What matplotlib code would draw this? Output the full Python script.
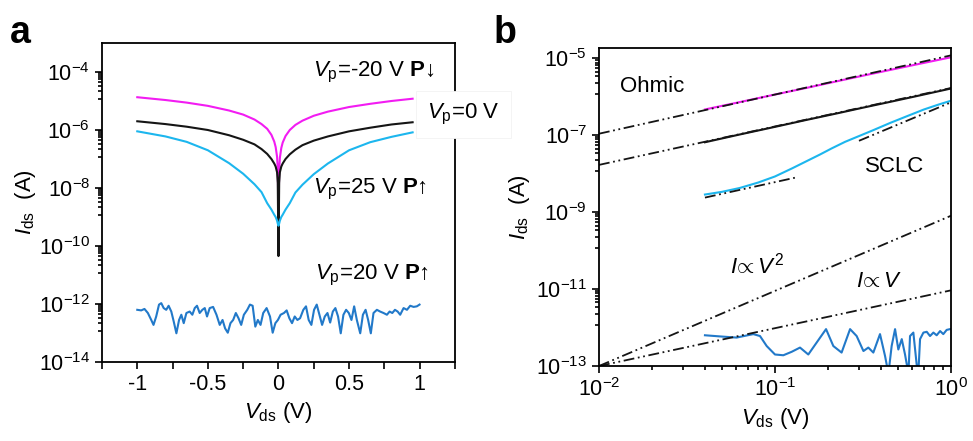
import numpy as np
import matplotlib.pyplot as plt
from matplotlib.ticker import FixedLocator, FuncFormatter, NullFormatter

plt.rcParams['font.family'] = ['Liberation Sans', 'DejaVu Sans']
plt.rcParams['mathtext.fontset'] = 'custom'
plt.rcParams['mathtext.rm'] = 'Liberation Sans'
plt.rcParams['mathtext.it'] = 'Liberation Sans:italic'
plt.rcParams['mathtext.bf'] = 'Liberation Sans:bold'
plt.rcParams['axes.unicode_minus'] = False

# ---- panel a : I-V sweeps, -1 V .. 0.95 V ----
v_a = [-1.0, -0.8, -0.65, -0.5, -0.35, -0.25, -0.17, -0.12, -0.08, -0.05, -0.03, -0.02,
       -0.01, -0.005, 0.0, 0.005, 0.01, 0.02, 0.03, 0.05, 0.08, 0.12, 0.17, 0.25, 0.35,
       0.5, 0.65, 0.8, 0.95]
i_neg20 = [1.35e-5, 1.08e-5, 8.8e-6, 6.8e-6, 4.7e-6, 3.4e-6, 2.3e-6, 1.6e-6, 1.1e-6, 6.8e-7,
           4.0e-7, 2.6e-7, 1.2e-7, 4.5e-8, 8.5e-10, 4.0e-8, 1.1e-7, 2.4e-7, 3.7e-7, 6.2e-7,
           1.0e-6, 1.5e-6, 2.1e-6, 3.1e-6, 4.3e-6, 6.2e-6, 8.0e-6, 1.0e-5, 1.2e-5]
i_0 = [2.0e-6, 1.6e-6, 1.3e-6, 1.0e-6, 6.6e-7, 4.6e-7, 3.2e-7, 2.2e-7, 1.5e-7, 1.0e-7,
       7.0e-8, 5.5e-8, 3.5e-8, 1.5e-8, 4.5e-11, 1.5e-8, 3.5e-8, 5.5e-8, 7.0e-8, 1.0e-7,
       1.45e-7, 2.1e-7, 3.0e-7, 4.3e-7, 6.0e-7, 9.0e-7, 1.2e-6, 1.55e-6, 1.85e-6]
i_25 = [9.0e-7, 6.0e-7, 3.9e-7, 2.0e-7, 7.2e-8, 3.1e-8, 1.35e-8, 7.2e-9, 3.0e-9, 1.8e-9,
        1.2e-9, 1.0e-9, 7.5e-10, 6.0e-10, 5.0e-10, 6.0e-10, 7.5e-10, 1.0e-9, 1.2e-9, 1.8e-9,
        3.0e-9, 7.0e-9, 1.3e-8, 3.0e-8, 7.0e-8, 2.0e-7, 3.8e-7, 5.8e-7, 8.3e-7]

v_noise_a = [-1.0, -0.972, -0.949, -0.925, -0.901, -0.885, -0.866, -0.846, -0.83, -0.813,
             -0.795, -0.778, -0.759, -0.742, -0.723, -0.704, -0.688, -0.671, -0.652, -0.629,
             -0.61, -0.593, -0.577, -0.558, -0.539, -0.522, -0.506, -0.487, -0.463, -0.439,
             -0.416, -0.396, -0.378, -0.359, -0.34, -0.321, -0.302, -0.283, -0.264, -0.245,
             -0.221, -0.202, -0.183, -0.164, -0.146, -0.127, -0.108, -0.084, -0.06, -0.041,
             -0.022, -0.004, 0.015, 0.039, 0.058, 0.077, 0.096, 0.115, 0.134, 0.153,
             0.176, 0.195, 0.214, 0.233, 0.252, 0.271, 0.29, 0.309, 0.328, 0.347,
             0.366, 0.385, 0.403, 0.422, 0.441, 0.46, 0.479, 0.498, 0.517, 0.536,
             0.555, 0.579, 0.598, 0.617, 0.635, 0.654, 0.673, 0.697, 0.72, 0.744,
             0.768, 0.787, 0.806, 0.825, 0.844, 0.862, 0.886, 0.91, 0.933, 0.957,
             0.98, 0.999]
log_noise_a = [-12.20, -12.22, -12.17, -12.31, -12.55, -12.72, -12.43, -12.02, -11.97, -12.14,
               -12.20, -12.06, -12.26, -12.60, -13.01, -12.55, -12.37, -12.66, -12.31, -12.26,
               -12.37, -12.14, -12.06, -12.31, -12.20, -12.14, -12.43, -12.14, -12.10, -12.37,
               -12.72, -12.55, -12.84, -12.99, -12.66, -12.55, -12.31, -12.49, -12.72, -12.37,
               -12.20, -12.02, -12.06, -12.78, -12.55, -12.72, -12.31, -12.14, -12.43, -12.99,
               -12.66, -12.55, -12.37, -12.31, -12.22, -12.49, -12.66, -12.43, -12.55, -12.49,
               -12.20, -12.08, -12.55, -12.72, -12.20, -12.02, -12.37, -12.72, -12.43, -12.31,
               -12.64, -12.26, -12.14, -12.43, -13.01, -12.37, -12.20, -12.31, -12.55, -12.08,
               -12.55, -13.01, -12.37, -12.20, -12.55, -13.01, -12.31, -12.20, -12.26, -12.31,
               -12.37, -12.26, -12.31, -12.20, -12.26, -12.37, -12.14, -12.20, -12.06, -12.10,
               -12.08, -12.02]

# ---- panel b : positive branch on log-log axes ----
v_b = [0.04, 0.063, 0.1, 0.15, 0.23, 0.32, 0.45, 0.64, 1.0]
i_b_neg20 = [4.7e-7, 7.3e-7, 1.15e-6, 1.7e-6, 2.6e-6, 3.6e-6, 5.0e-6, 7.0e-6, 1.07e-5]
i_b_0 = [6.6e-8, 1.05e-7, 1.66e-7, 2.5e-7, 3.8e-7, 5.3e-7, 7.4e-7, 1.05e-6, 1.65e-6]
v_b25 = [0.04, 0.05, 0.063, 0.08, 0.1, 0.125, 0.15, 0.18, 0.21, 0.25, 0.3, 0.36,
         0.45, 0.55, 0.7, 0.85, 1.0]
log_b25 = [-8.54, -8.47, -8.37, -8.23, -8.07, -7.86, -7.68, -7.50, -7.34, -7.17, -7.02,
           -6.87, -6.68, -6.52, -6.33, -6.20, -6.10]

v_noise_b = [0.04, 0.0487, 0.0605, 0.0753, 0.0822, 0.0897, 0.1, 0.1115, 0.1244, 0.1387,
             0.1546, 0.1724, 0.195, 0.2145, 0.239, 0.267, 0.291, 0.318, 0.339, 0.362,
             0.395, 0.422, 0.441, 0.46, 0.481, 0.502, 0.525, 0.548, 0.573, 0.585,
             0.611, 0.638, 0.652, 0.667, 0.697, 0.728, 0.76, 0.794, 0.829, 0.867,
             0.904, 0.945, 0.987]
log_noise_b = [-12.20, -12.23, -12.26, -12.17, -12.22, -12.48, -12.70, -12.72, -12.63, -12.52,
               -12.70, -12.39, -12.04, -12.48, -12.65, -12.04, -12.22, -12.61, -12.52, -12.65,
               -12.17, -12.74, -13.2, -12.48, -12.04, -12.57, -12.30, -12.70, -13.2, -12.22,
               -12.13, -12.96, -13.2, -12.30, -12.13, -12.11, -12.22, -12.13, -12.20, -12.09,
               -12.17, -12.06, -12.04]

# dash-dot-dot guide lines: ([V start, V end], [I start, I end])
fit_ohmic_neg20 = ([0.01, 1.0], [1.1e-7, 1.2e-5])
fit_ohmic_0 = ([0.01, 1.0], [1.7e-8, 1.7e-6])
fit_ohmic_25 = ([0.04, 0.13], [2.4e-9, 7.9e-9])
fit_sclc_25 = ([0.3, 1.0], [7.2e-8, 7.2e-7])
guide_v2 = ([0.01, 1.0], [1e-13, 8.1e-10])
guide_v1 = ([0.01, 1.0], [1e-13, 9.3e-12])

magenta = '#f21cf2'
black = '#151515'
cyan = '#1cb6ee'
blue = '#2279c9'
ddot = (0, (6, 2, 1, 2, 1, 2))

fig = plt.figure(figsize=(9.73, 4.41), dpi=100)
axa = fig.add_axes([0.1048, 0.1791, 0.3628, 0.7234])
axb = fig.add_axes([0.6156, 0.170, 0.3618, 0.7211])

# panel a
axa.plot(v_a, i_neg20, color=magenta, lw=1.5)
axa.plot(v_a, i_0, color=black, lw=1.5)
axa.plot(v_a, i_25, color=cyan, lw=1.5)
axa.plot(v_noise_a, 10 ** np.array(log_noise_a), color=blue, lw=1.5)
axa.set_yscale('log')
axa.set_xlim(-1.25, 1.25)
axa.set_ylim(1e-14, 1e-3)

# panel b
axb.plot(v_b, i_b_neg20, color=magenta, lw=1.5)
axb.plot(v_b, i_b_0, color=black, lw=1.5)
axb.plot(v_b25, 10 ** np.array(log_b25), color=cyan, lw=1.5)
axb.plot(v_noise_b, 10 ** np.array(log_noise_b), color=blue, lw=1.5)
for fx, fy in [fit_ohmic_neg20, fit_ohmic_0, fit_ohmic_25, fit_sclc_25, guide_v2, guide_v1]:
    axb.plot(fx, fy, color=black, lw=1.3, linestyle=ddot)
axb.set_xscale('log')
axb.set_yscale('log')
axb.set_xlim(0.01, 1.0)
axb.set_ylim(1e-13, 10 ** -4.73)

# ticks: majors every two decades, minors evenly spaced in value between them
def log_minor(majors):
    out = []
    for lo, hi in zip(majors[:-1], majors[1:]):
        out += [lo + k * (hi - lo) / 9 for k in range(1, 9)]
    return out

maj_a = [1e-14, 1e-12, 1e-10, 1e-8, 1e-6, 1e-4, 1e-2]
axa.yaxis.set_major_locator(FixedLocator(maj_a))
axa.yaxis.set_minor_locator(FixedLocator(log_minor(maj_a)))
axa.yaxis.set_minor_formatter(NullFormatter())
axa.xaxis.set_major_locator(FixedLocator([-1, -0.5, 0, 0.5, 1]))
axa.xaxis.set_minor_locator(FixedLocator([-1.25, -0.75, -0.25, 0.25, 0.75, 1.25]))
axa.xaxis.set_major_formatter(FuncFormatter(lambda v, p: '%g' % v))

maj_b = [1e-13, 1e-11, 1e-9, 1e-7, 1e-5, 1e-3]
axb.yaxis.set_major_locator(FixedLocator(maj_b))
axb.yaxis.set_minor_locator(FixedLocator(log_minor(maj_b)))
axb.yaxis.set_minor_formatter(NullFormatter())
axb.xaxis.set_minor_formatter(NullFormatter())

for ax in (axa, axb):
    for s in ax.spines.values():
        s.set_linewidth(1.3)
    ax.tick_params(which='both', direction='out', labelsize=15.5, width=1.2, top=False, right=False)
    ax.tick_params(which='major', length=5)
    ax.tick_params(which='minor', length=3)
axa.tick_params(axis='x', which='minor', length=5)

lab = dict(fontsize=16)
axa.set_xlabel(r'$V_{\mathrm{ds}}$ (V)', **lab)
axa.set_ylabel(r'$I_{\mathrm{ds}}$  (A)', labelpad=1, **lab)
axb.set_xlabel(r'$V_{\mathrm{ds}}$ (V)', **lab)
axb.set_ylabel(r'$I_{\mathrm{ds}}$  (A)', labelpad=3, **lab)

# annotations
tk = dict(fontsize=16, va='center', ha='left')
axa.text(0.242, 10 ** -4.0, r'$V_{\mathrm{p}}$=-20 V $\mathbf{P}$↓', **tk)
axa.text(0.242, 10 ** -8.06, r'$V_{\mathrm{p}}$=25 V $\mathbf{P}$↑', **tk)
axa.text(0.26, 10 ** -11.0, r'$V_{\mathrm{p}}$=20 V $\mathbf{P}$↑', **tk)
axa.text(1.055, 10 ** -5.46, r'$V_{\mathrm{p}}$=0 V', clip_on=False, zorder=10,
         bbox=dict(boxstyle='square,pad=0.5', fc='white', ec='#f2f2f2', lw=0.6), **tk)

axb.text(0.0131, 10 ** -5.72, 'Ohmic', **tk)
axb.text(0.324, 10 ** -7.81, 'SCLC', **tk)
axb.text(0.0555, 10 ** -10.39, r'$I\!\propto V^2$', **tk)
axb.text(0.288, 10 ** -10.8, r'$I\!\propto V$', **tk)

fig.text(0.010, 0.965, 'a', fontsize=27, fontweight='bold', va='top')
fig.text(0.507, 0.965, 'b', fontsize=27, fontweight='bold', va='top')

fig.savefig('out.png', dpi=100)
